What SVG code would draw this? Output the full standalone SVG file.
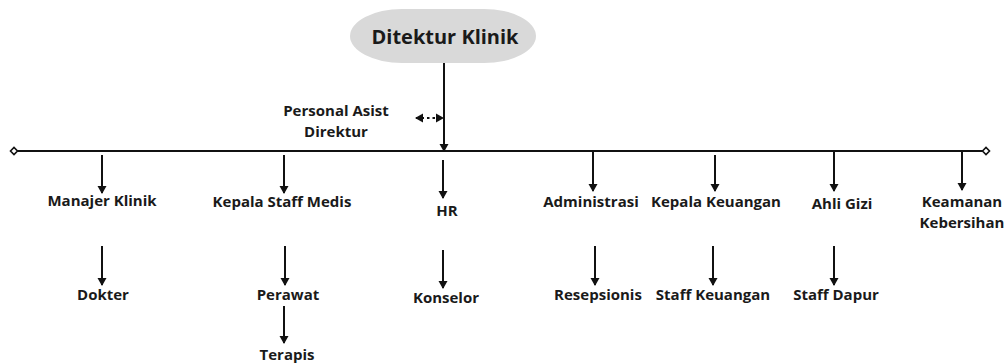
<svg xmlns="http://www.w3.org/2000/svg" width="1005" height="363" viewBox="0 0 1005 363">
<style>
text{font-family:"Open Sans","Liberation Sans",sans-serif;font-weight:700;fill:#1a1a1a;text-anchor:middle;font-size:15px}
.t{font-size:20px}
.c{stroke:#111;stroke-width:2;fill:none}
.d{stroke:#111;stroke-width:2;fill:none;stroke-dasharray:2.5 3}
</style>
<defs>
<marker id="ah" markerUnits="userSpaceOnUse" markerWidth="10" markerHeight="10" refX="8" refY="5" orient="auto-start-reverse">
<path d="M1,0.5 L9,5 L1,9.5 Z" fill="#111"/>
</marker>
<marker id="dm" markerUnits="userSpaceOnUse" markerWidth="10" markerHeight="10" refX="5" refY="5" orient="auto">
<path d="M1.5,5 L5,1.5 L8.5,5 L5,8.5 Z" fill="#fff" stroke="#111" stroke-width="1.6"/>
</marker>
</defs>
<rect width="1005" height="363" fill="#fff"/>
<g id="connectors">
<line class="c" x1="14" y1="151" x2="986" y2="151" marker-start="url(#dm)" marker-end="url(#dm)"/>
<line class="c" x1="444" y1="63" x2="444" y2="151" marker-end="url(#ah)"/>
<line class="d" x1="416" y1="118" x2="443" y2="118" marker-start="url(#ah)" marker-end="url(#ah)"/>
<line class="c" x1="102" y1="155" x2="102" y2="193" marker-end="url(#ah)"/>
<line class="c" x1="284" y1="155" x2="284" y2="193" marker-end="url(#ah)"/>
<line class="c" x1="443" y1="160" x2="443" y2="198" marker-end="url(#ah)"/>
<line class="c" x1="593" y1="152" x2="593" y2="191" marker-end="url(#ah)"/>
<line class="c" x1="715" y1="155" x2="715" y2="191" marker-end="url(#ah)"/>
<line class="c" x1="834" y1="152" x2="834" y2="191" marker-end="url(#ah)"/>
<line class="c" x1="962" y1="152" x2="962" y2="190" marker-end="url(#ah)"/>
<line class="c" x1="102" y1="246" x2="102" y2="285" marker-end="url(#ah)"/>
<line class="c" x1="285" y1="246" x2="285" y2="285" marker-end="url(#ah)"/>
<line class="c" x1="284" y1="306" x2="284" y2="343" marker-end="url(#ah)"/>
<line class="c" x1="443" y1="250" x2="443" y2="288" marker-end="url(#ah)"/>
<line class="c" x1="595" y1="246" x2="595" y2="285" marker-end="url(#ah)"/>
<line class="c" x1="713" y1="246" x2="713" y2="285" marker-end="url(#ah)"/>
<line class="c" x1="834" y1="246" x2="834" y2="285" marker-end="url(#ah)"/>
</g>
<g id="direktur-klinik">
<rect x="350" y="9" width="186" height="54" rx="52" ry="27" fill="#d9d9d9"/>
<text class="t" x="445" y="44">Ditektur Klinik</text>
</g>
<g id="personal-asist"><text x="336" y="116">Personal Asist</text><text x="336" y="137">Direktur</text></g>
<g id="manajer-klinik"><text x="102" y="206">Manajer Klinik</text></g>
<g id="kepala-staff-medis"><text x="282" y="207">Kepala Staff Medis</text></g>
<g id="hr"><text x="447" y="216">HR</text></g>
<g id="administrasi"><text x="591" y="207">Administrasi</text></g>
<g id="kepala-keuangan"><text x="716" y="207">Kepala Keuangan</text></g>
<g id="ahli-gizi"><text x="842" y="209">Ahli Gizi</text></g>
<g id="keamanan-kebersihan"><text x="962" y="207">Keamanan</text><text x="962" y="228">Kebersihan</text></g>
<g id="dokter"><text x="103" y="300">Dokter</text></g>
<g id="perawat"><text x="288" y="300">Perawat</text></g>
<g id="terapis"><text x="287" y="360">Terapis</text></g>
<g id="konselor"><text x="446" y="303">Konselor</text></g>
<g id="resepsionis"><text x="598" y="300">Resepsionis</text></g>
<g id="staff-keuangan"><text x="713" y="300">Staff Keuangan</text></g>
<g id="staff-dapur"><text x="836" y="300">Staff Dapur</text></g>
</svg>
